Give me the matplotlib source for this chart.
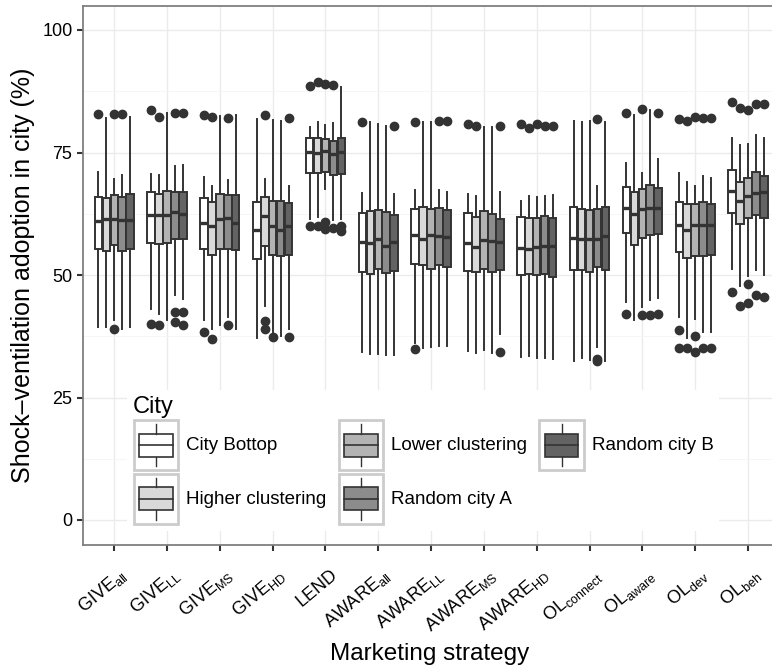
import numpy as np
import matplotlib
matplotlib.use("Agg")
import matplotlib.pyplot as plt
from matplotlib.patches import Rectangle
from matplotlib.lines import Line2D
from matplotlib.legend_handler import HandlerBase
from matplotlib.transforms import ScaledTranslation

plt.rcParams['font.family'] = ['Liberation Sans', 'DejaVu Sans']
plt.rcParams['mathtext.fontset'] = 'custom'
plt.rcParams['mathtext.rm'] = 'Liberation Sans'
plt.rcParams['mathtext.it'] = 'Liberation Sans'

# 策略 / 城市
strategies = [r'GIVE$_{\mathrm{all}}$', r'GIVE$_{\mathrm{LL}}$', r'GIVE$_{\mathrm{MS}}$',
              r'GIVE$_{\mathrm{HD}}$', 'LEND', r'AWARE$_{\mathrm{all}}$',
              r'AWARE$_{\mathrm{LL}}$', r'AWARE$_{\mathrm{MS}}$', r'AWARE$_{\mathrm{HD}}$',
              r'OL$_{\mathrm{connect}}$', r'OL$_{\mathrm{aware}}$', r'OL$_{\mathrm{dev}}$',
              r'OL$_{\mathrm{beh}}$']
cities = ['City Bottop', 'Higher clustering', 'Lower clustering', 'Random city A', 'Random city B']
fills = ['#FFFFFF', '#D9D9D9', '#B3B3B3', '#8C8C8C', '#636363']

# 每行一个策略, 每列一个城市
q1 = [[55.3, 54.9, 56.1, 55.0, 55.4],
      [56.6, 56.3, 56.5, 57.4, 57.4],
      [55.3, 54.0, 55.3, 55.3, 55.1],
      [53.2, 55.9, 54.1, 53.8, 54.0],
      [70.8, 70.8, 71.0, 70.5, 70.7],
      [50.6, 50.3, 51.3, 50.5, 50.9],
      [52.3, 52.0, 51.3, 52.0, 51.6],
      [50.9, 50.6, 51.2, 50.7, 51.0],
      [49.9, 50.3, 50.0, 50.3, 49.5],
      [51.0, 51.0, 50.6, 51.6, 51.0],
      [58.5, 56.1, 57.6, 58.1, 58.4],
      [54.6, 53.4, 53.8, 53.8, 54.0],
      [62.6, 60.5, 61.6, 62.3, 61.6]]
med = [[61.0, 61.5, 61.5, 61.3, 61.3],
       [62.3, 62.2, 62.3, 62.8, 62.4],
       [60.7, 59.9, 61.5, 61.6, 60.7],
       [59.2, 62.0, 59.9, 59.2, 60.0],
       [75.1, 75.0, 75.4, 74.6, 75.2],
       [56.8, 56.5, 57.4, 56.0, 56.8],
       [58.2, 57.4, 58.1, 58.0, 57.8],
       [56.5, 55.8, 57.2, 57.0, 56.8],
       [55.5, 55.4, 55.7, 56.0, 56.0],
       [57.5, 57.4, 57.4, 57.4, 57.9],
       [63.7, 62.4, 63.5, 63.7, 63.6],
       [60.2, 59.2, 60.2, 60.3, 60.3],
       [67.2, 65.2, 66.2, 66.7, 66.9]]
q3 = [[66.0, 65.8, 66.3, 66.0, 66.6],
      [66.9, 66.6, 67.2, 66.9, 66.9],
      [65.8, 65.0, 66.5, 66.4, 66.4],
      [65.0, 66.0, 65.2, 65.2, 64.7],
      [77.9, 77.9, 77.7, 77.3, 77.9],
      [62.6, 63.0, 63.3, 62.8, 62.3],
      [63.4, 63.8, 63.4, 63.7, 63.3],
      [62.6, 61.9, 63.0, 62.5, 61.4],
      [61.8, 61.6, 61.6, 62.0, 61.6],
      [63.8, 63.5, 63.2, 63.5, 63.8],
      [67.9, 66.9, 67.6, 68.4, 67.8],
      [65.0, 64.5, 64.5, 65.0, 64.5],
      [71.4, 68.9, 69.7, 71.0, 70.3]]
whis_lo = [[39.4, 39.4, 40.8, 39.0, 39.4],
           [43.0, 42.1, 40.9, 45.9, 45.2],
           [40.9, 38.9, 39.8, 41.5, 38.9],
           [37.2, 43.7, 38.4, 37.5, 38.9],
           [61.5, 61.8, 67.5, 61.3, 61.4],
           [34.3, 33.8, 33.8, 33.6, 33.6],
           [36.1, 35.2, 35.3, 35.5, 35.5],
           [34.5, 34.1, 34.6, 34.1, 37.9],
           [33.3, 33.4, 33.0, 33.0, 32.8],
           [32.4, 33.1, 32.6, 35.3, 32.4],
           [44.5, 40.9, 43.4, 45.0, 45.4],
           [41.5, 37.2, 41.1, 38.4, 38.4],
           [51.2, 47.7, 49.7, 51.0, 50.1]]
whis_hi = [[71.0, 82.1, 69.5, 70.5, 82.2],
           [70.6, 70.5, 83.0, 72.2, 72.5],
           [69.9, 68.2, 82.4, 69.3, 82.6],
           [81.8, 69.5, 81.6, 81.4, 68.1],
           [80.2, 81.2, 80.7, 81.1, 88.3],
           [66.7, 81.3, 80.9, 80.5, 66.5],
           [67.4, 81.2, 81.2, 67.3, 67.0],
           [66.5, 66.2, 80.2, 80.2, 66.9],
           [65.2, 66.2, 65.9, 66.1, 66.4],
           [81.4, 81.2, 81.4, 68.2, 81.3],
           [72.9, 82.6, 70.8, 83.6, 73.6],
           [70.8, 68.9, 68.2, 70.2, 69.8],
           [77.9, 76.5, 76.8, 78.5, 78.0]]
outliers = [[[82.9], [], [82.9, 39.0], [82.8], []],
            [[83.6, 40.0], [82.3, 39.8], [], [83.0, 42.5, 40.4], [83.0, 42.5, 39.8]],
            [[82.6, 38.4], [82.2, 36.9], [], [82.0, 39.8], []],
            [[], [82.7, 40.6, 38.9], [37.4], [], [82.0, 37.4]],
            [[88.6, 59.9], [89.4, 59.9], [88.9, 60.9, 59.4], [88.8, 59.6], [60.0, 58.9]],
            [[81.3], [], [], [], [80.4]],
            [[81.2, 34.9], [], [], [81.4], [81.4]],
            [[80.9], [80.5], [], [], [80.5, 34.3]],
            [[80.9], [80.0], [80.9], [80.4], [80.5]],
            [[], [], [], [81.9, 32.9, 32.4], []],
            [[83.1, 42.0], [], [83.8, 41.8], [41.8], [83.0, 42.0]],
            [[81.9, 38.7, 35.2], [81.4, 35.2], [82.3, 37.5, 34.3], [82.1, 35.2], [82.0, 35.2]],
            [[85.3, 46.5], [84.0, 43.7], [83.7, 48.1, 44.2], [84.8, 46.0], [84.8, 45.5]]]

EDGE = '#333333'
box_w = 0.15


class BoxKeyHandler(HandlerBase):
    # 图例里的小箱线图
    def create_artists(self, legend, orig_handle, xdescent, ydescent,
                       width, height, fontsize, trans):
        x0, y0 = -xdescent, -ydescent
        bg = Rectangle((x0 + 1, y0 + 1), width - 2, height - 2, facecolor='white',
                       edgecolor='#CCCCCC', lw=2.0, transform=trans)
        bx = Rectangle((x0 + width * 0.14, y0 + height * 0.28), width * 0.72, height * 0.44,
                       facecolor=orig_handle.get_facecolor(), edgecolor=EDGE, lw=1.2,
                       transform=trans)
        cx = x0 + width / 2
        w1 = Line2D([cx, cx], [y0 + height * 0.1, y0 + height * 0.28], color=EDGE, lw=1.0, transform=trans)
        w2 = Line2D([cx, cx], [y0 + height * 0.72, y0 + height * 0.9], color=EDGE, lw=1.0, transform=trans)
        m = Line2D([x0 + width * 0.14, x0 + width * 0.86], [y0 + height * 0.5] * 2,
                   color=EDGE, lw=1.2, transform=trans)
        return [bg, bx, w1, w2, m]


fig = plt.figure(figsize=(7.72, 6.65), dpi=100)
# 右边框在原图之外
ax = fig.add_axes([82.6 / 772, 120.5 / 665, 697 / 772, 539 / 665])

for j, city in enumerate(cities):
    stats = []
    for i in range(len(strategies)):
        stats.append({'med': med[i][j], 'q1': q1[i][j], 'q3': q3[i][j],
                      'whislo': whis_lo[i][j], 'whishi': whis_hi[i][j],
                      'fliers': outliers[i][j]})
    pos = np.arange(1, len(strategies) + 1) + (j - 2) * box_w
    ax.bxp(stats, positions=pos, widths=box_w * 0.95, patch_artist=True,
           showcaps=False, manage_ticks=False, zorder=3,
           boxprops=dict(facecolor=fills[j], edgecolor=EDGE, lw=1.4),
           whiskerprops=dict(color=EDGE, lw=1.4),
           medianprops=dict(color=EDGE, lw=2.4),
           flierprops=dict(marker='o', markerfacecolor=EDGE, markeredgecolor=EDGE,
                           markersize=6))

ax.set_xlim(0.4, 13.6)
ax.set_ylim(-5, 105)
ax.set_xticks(np.arange(1, 14))
ax.set_xticklabels(strategies, rotation=40, ha='right', va='center',
                   rotation_mode='anchor', fontsize=13)
ax.set_yticks([0, 25, 50, 75, 100])
ax.set_yticks([12.5, 37.5, 62.5, 87.5], minor=True)
ax.tick_params(axis='y', labelsize=13, color='#333333', length=4.3, width=1.5, pad=3)
ax.tick_params(axis='x', color='#333333', length=4.3, width=1.5, pad=16)
ax.tick_params(axis='y', which='minor', length=0)
off = ScaledTranslation(0.10, 0, fig.dpi_scale_trans)
for lab in ax.get_xticklabels():
    lab.set_transform(lab.get_transform() + off)
ax.grid(True, which='major', color='#EBEBEB', lw=1.0, zorder=0)
ax.grid(True, which='minor', axis='y', color='#F5F5F5', lw=0.6, zorder=0)
ax.set_axisbelow(True)
for s in ax.spines.values():
    s.set_color('#7F7F7F')
    s.set_linewidth(1.3)

ax.set_ylabel('Shock\u2013ventilation adoption in city (%)', fontsize=18, labelpad=5)
ax.set_xlabel('Marketing strategy', fontsize=17.5)
ax.xaxis.set_label_coords((430 - 82.6) / 697, -(643 - 544.5) / 539)

handles = [Rectangle((0, 0), 1, 1, facecolor=f) for f in fills]
leg = ax.legend(handles, cities, handler_map={Rectangle: BoxKeyHandler()},
                loc='lower left', bbox_to_anchor=(0.050, 0.008), ncol=3,
                title='City', fontsize=13.5, title_fontsize=17, frameon=True,
                handlelength=2.5, handleheight=3.95, labelspacing=0.05,
                columnspacing=0.6, handletextpad=0.35, borderpad=0.3)
leg.get_frame().set_edgecolor('none')
leg.get_frame().set_facecolor('white')
leg.get_frame().set_alpha(1)
leg._legend_box.align = 'left'

fig.savefig('out.png', dpi=100)
